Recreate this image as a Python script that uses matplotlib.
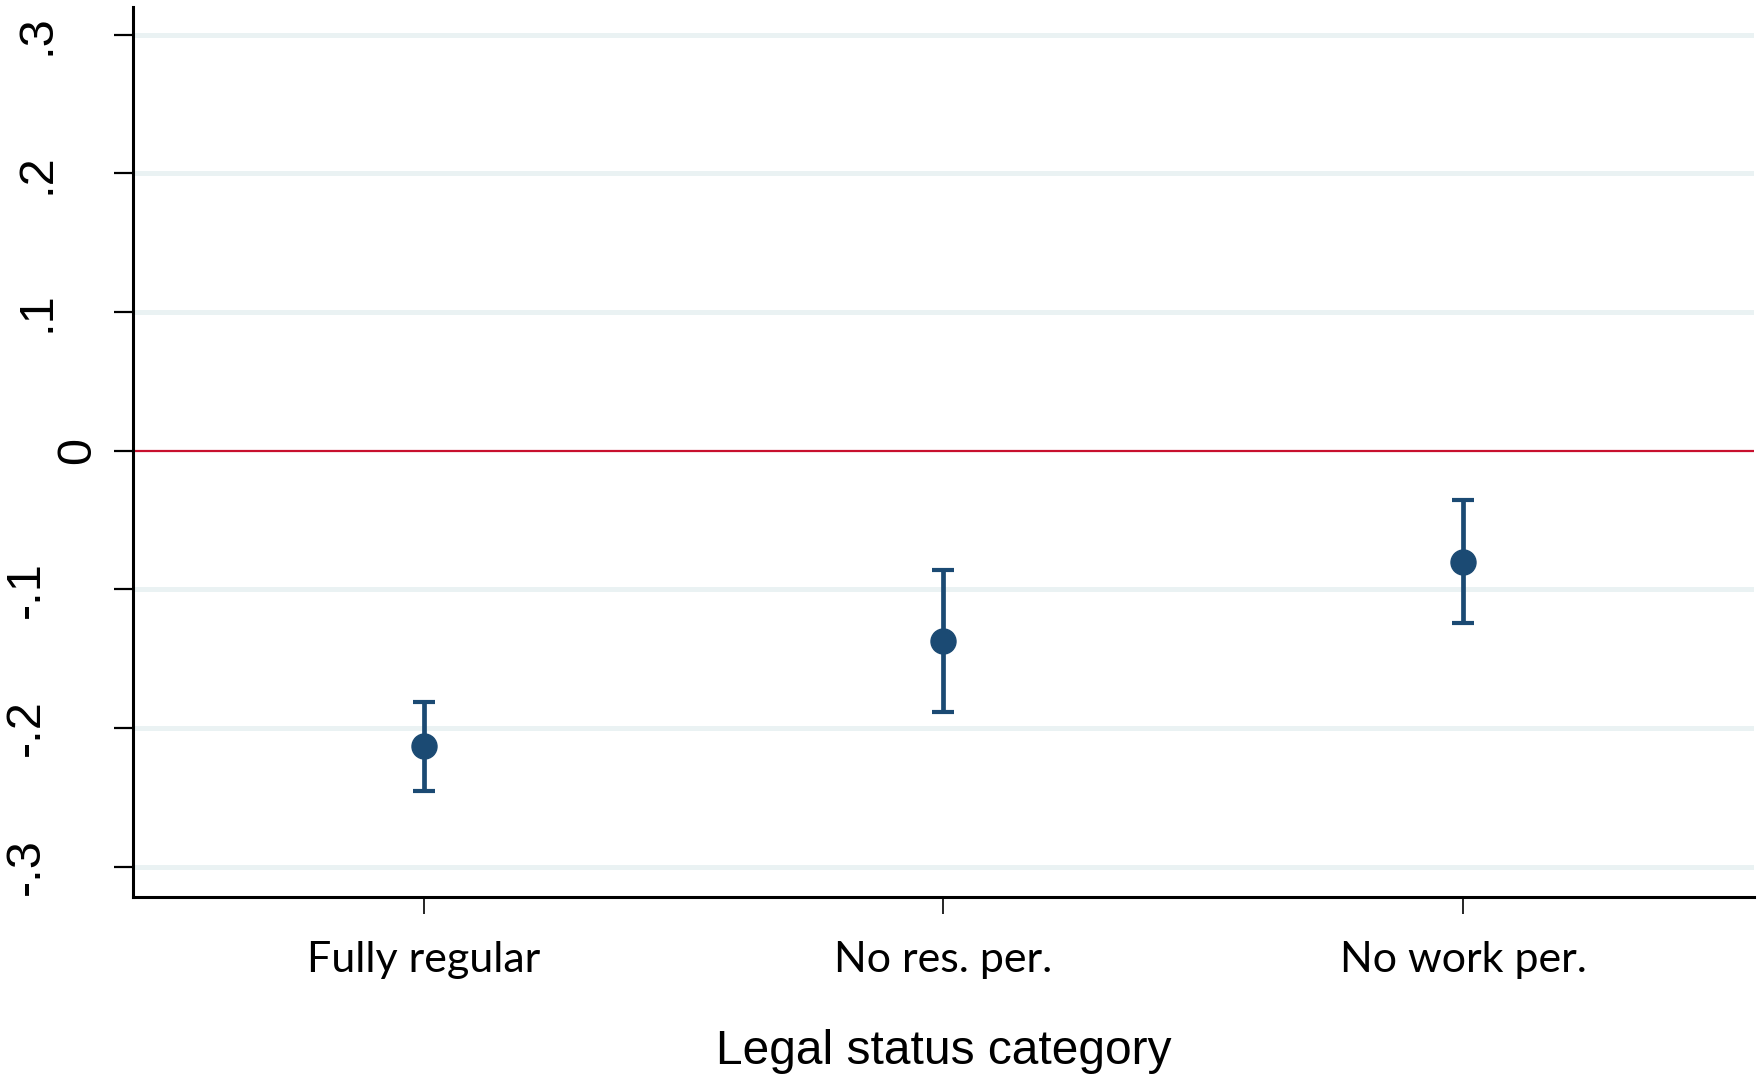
import matplotlib
matplotlib.use("Agg")
import matplotlib.pyplot as plt
from matplotlib.transforms import offset_copy

# data
categories = ["Fully regular", "No res. per.", "No work per."]
estimate = [-0.213, -0.1375, -0.0803]
ci_low = [-0.2456, -0.1884, -0.1243]
ci_high = [-0.181, -0.0858, -0.0353]
yticks = [-0.3, -0.2, -0.1, 0.0, 0.1, 0.2, 0.3]
ytick_labels = ["-.3", "-.2", "-.1", "0", ".1", ".2", ".3"]

navy = "#1b4a73"

fig = plt.figure(figsize=(17.63, 10.75), dpi=100)
ax = fig.add_axes([133 / 1763, 1 - 897 / 1075, (1754 - 133) / 1763, (897 - 7) / 1075])

x = list(range(1, len(categories) + 1))
yerr = [[e - l for e, l in zip(estimate, ci_low)],
        [h - e for e, h in zip(estimate, ci_high)]]

# light grid + red zero line
for t in yticks:
    if t != 0:
        ax.axhline(t, color="#eaf2f3", lw=3.6, zorder=0)
ax.axhline(0, color="#c8102e", lw=1.6, zorder=1)

ax.errorbar(x, estimate, yerr=yerr, fmt="o", ms=18, color=navy, mfc=navy, mec=navy,
            elinewidth=3.4, capsize=8, capthick=3, zorder=3)

ax.set_xlim(0.44, 3.56)
ax.set_ylim(-0.322, 0.32)

for s in ["top", "right"]:
    ax.spines[s].set_visible(False)
ax.spines["left"].set_linewidth(2.2)
ax.spines["bottom"].set_linewidth(2.2)

ax.set_yticks(yticks)
ax.set_yticklabels([])
ax.tick_params(axis="y", length=13.7, width=1.6, color="black")
# rotated y labels, placed by hand like stata does
for t, lab in zip(yticks, ytick_labels):
    if lab == "0":
        dx = -55
    elif lab.startswith("-"):
        dx = -107
    else:
        dx = -96
    tr = offset_copy(ax.get_yaxis_transform(), fig=fig, x=dx, y=0, units="dots")
    ax.text(0, t, lab, transform=tr, rotation=90, ha="center", va="center",
            fontsize=35, family="Liberation Sans")

ax.set_xticks(x)
ax.set_xticklabels(categories, fontsize=31, family="Lato")
ax.tick_params(axis="x", length=12, width=1.2, pad=20, color="black")

ax.set_xlabel("Legal status category", fontsize=34.5, family="Liberation Sans", labelpad=36)

fig.savefig("out.png", dpi=100)
